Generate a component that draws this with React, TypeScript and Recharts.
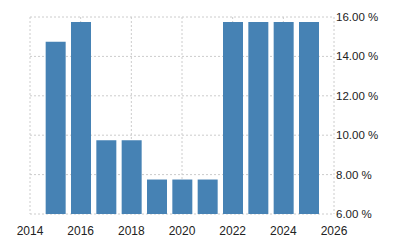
import React from "react";
import { BarChart, Bar, XAxis, YAxis, CartesianGrid } from "recharts";

const years = [2015, 2016, 2017, 2018, 2019, 2020, 2021, 2022, 2023, 2024, 2025];
const rates = [14.75, 15.75, 9.75, 9.75, 7.75, 7.75, 7.75, 15.75, 15.75, 15.75, 15.75];
const xTicks = [2014, 2016, 2018, 2020, 2022, 2024, 2026];
const yTicks = [6, 8, 10, 12, 14, 16];

const data = years.map((y, i) => ({ year: y, value: rates[i] }));

export default function App() {
  return (
    <div style={{ position: "absolute", left: 0, top: 0, width: 400, height: 250, background: "#fff" }}>
      <BarChart
        width={400}
        height={250}
        data={data}
        margin={{ top: 17, right: 6, bottom: 6, left: 30 }}
      >
        <CartesianGrid stroke="#cccccc" strokeDasharray="2 2" />
        <XAxis
          dataKey="year"
          type="number"
          domain={[2014, 2026]}
          ticks={xTicks}
          axisLine={false}
          tickLine={false}
          height={30}
          tickMargin={6}
          tick={{ fill: "#222", fontSize: 12, fontFamily: "Liberation Sans, Arial, sans-serif" }}
        />
        <YAxis
          orientation="right"
          domain={[6, 16]}
          ticks={yTicks}
          axisLine={false}
          tickLine={false}
          tickSize={0}
          tickMargin={2}
          width={60}
          tickFormatter={(v: number) => `${v.toFixed(2)} %`}
          tick={{ fill: "#222", fontSize: 11.5, fontFamily: "Liberation Sans, Arial, sans-serif", textAnchor: "start" }}
        />
        <Bar dataKey="value" fill="#4682B4" barSize={20} isAnimationActive={false} />
      </BarChart>
    </div>
  );
}
